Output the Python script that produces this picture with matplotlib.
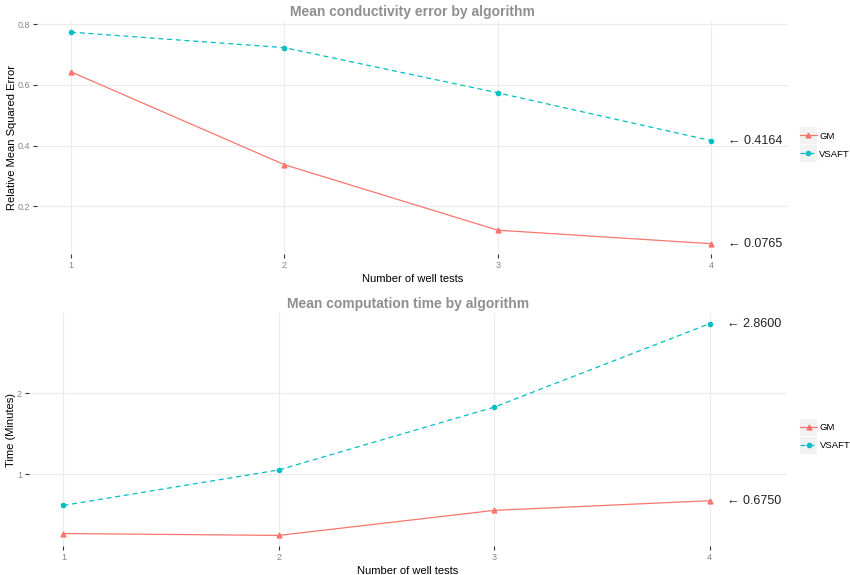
import matplotlib
matplotlib.use("Agg")
import matplotlib.pyplot as plt
from matplotlib.legend_handler import HandlerLine2D
from matplotlib.patches import Rectangle

plt.rcParams["font.family"] = ["Liberation Sans", "DejaVu Sans"]

# data
well_tests = [1, 2, 3, 4]
err_gm = [0.643, 0.337, 0.121, 0.0765]
err_vsaft = [0.774, 0.723, 0.574, 0.4164]
time_gm = [0.270, 0.247, 0.556, 0.675]
time_vsaft = [0.617, 1.055, 1.830, 2.860]

GM_COL = "#F8766D"
VS_COL = "#00BFC4"
GRID = "#ebebeb"
TICKTXT = "#858585"


class KeyHandler(HandlerLine2D):
    # ggplot-style grey key background behind each legend glyph,
    # glyph centred on the key so it lines up with the label text
    def create_artists(self, legend, orig_handle, xdescent, ydescent,
                       width, height, fontsize, trans):
        bg = Rectangle((-xdescent, -ydescent), width, height,
                       facecolor="#f2f2f2", edgecolor="none", transform=trans)
        arts = super().create_artists(legend, orig_handle, xdescent, ydescent,
                                      width, height, fontsize, trans)
        yc = 0.35 * fontsize
        for a in arts:
            a.set_ydata([yc] * len(a.get_xdata()))
        return [bg] + list(arts)


def panel(ax, gm, vs, title, ylabel, yticks, fmt, ylim, leg_x):
    ax.plot(well_tests, gm, color=GM_COL, lw=0.9, marker="^", ms=3.5, label="GM")
    ax.plot(well_tests, vs, color=VS_COL, lw=0.9, ls=(0, (4, 3)), marker="o",
            ms=3, label="VSAFT")
    for v in (gm[-1], vs[-1]):
        ax.text(4.08, v, "\u2190 " + fmt.format(v), fontsize=9, va="center",
                ha="left", color="#222222")
    ax.set_xlim(0.84, 4.36)
    ax.set_ylim(*ylim)
    ax.set_xticks(well_tests)
    ax.set_yticks(yticks)
    ax.grid(True, color=GRID, lw=0.8)
    ax.set_axisbelow(True)
    for s in ax.spines.values():
        s.set_visible(False)
    ax.tick_params(length=3, width=0.8, color="#333333", labelcolor=TICKTXT,
                   labelsize=6.5, pad=2)
    ax.set_title(title, fontsize=10, fontweight="bold", color="#8f8f8f", pad=4)
    ax.set_xlabel("Number of well tests", fontsize=8, labelpad=3)
    ax.set_ylabel(ylabel, fontsize=8, labelpad=0.5)
    leg = ax.legend(loc="center left", bbox_to_anchor=(leg_x, 0.47), frameon=False,
                    fontsize=6.8, handlelength=1.8, handleheight=2.4,
                    labelspacing=0.1, handletextpad=0.25, borderpad=0,
                    borderaxespad=0,
                    handler_map={plt.Line2D: KeyHandler()})
    return leg


fig = plt.figure(figsize=(8.5, 5.75), dpi=100)
ax1 = fig.add_axes([0.0435, 0.558, 0.8835, 0.405])
ax2 = fig.add_axes([0.034, 0.0504, 0.892, 0.405])

panel(ax1, err_gm, err_vsaft, "Mean conductivity error by algorithm",
      "Relative Mean Squared Error", [0.2, 0.4, 0.6, 0.8], "{:.4f}",
      (0.042, 0.81), (800 - 37) / 751)
panel(ax2, time_gm, time_vsaft, "Mean computation time by algorithm",
      "Time (Minutes)", [1, 2], "{:.4f}", (0.116, 2.99), (800 - 29) / 758)

fig.savefig("out.png", dpi=100)
